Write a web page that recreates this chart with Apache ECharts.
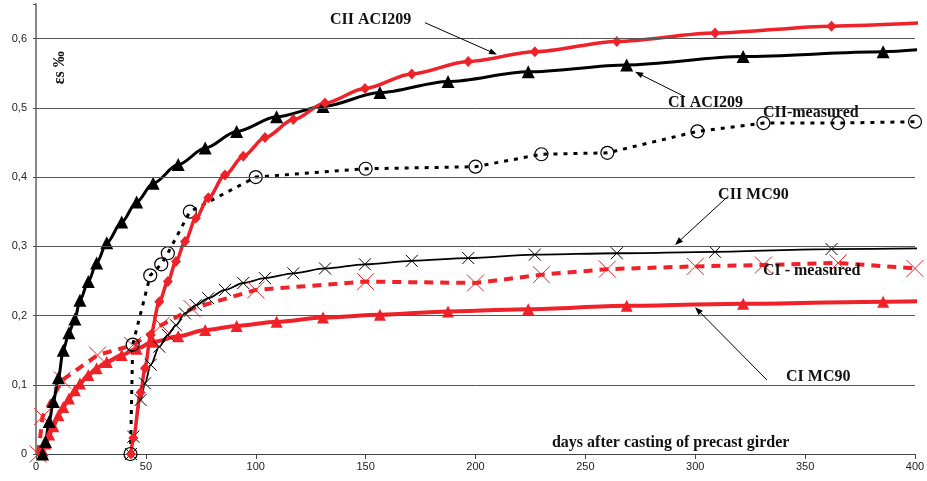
<!DOCTYPE html>
<html>
<head>
<meta charset="utf-8">
<script src="https://cdn.jsdelivr.net/npm/echarts@6/dist/echarts.min.js"></script>
<style>
  html, body { margin: 0; padding: 0; background: #fff; }
  #main { width: 927px; height: 481px; }
</style>
</head>
<body>
<div id="main"></div>
<script>
// CI girder: ACI209 and MC90 model points share the same days
var daysCI    = [3, 4.3, 6, 7.9, 10.2, 12.4, 15, 17.7, 20, 23.8, 27.6, 32.2, 39, 45.8, 53.3, 64.7, 77, 91.3, 109.5, 130.6, 156.5, 187.5, 224, 268.8, 321.8, 385.5, 405];
var ciACI209  = [0, 0.018, 0.047, 0.076, 0.11, 0.15, 0.175, 0.195, 0.222, 0.249, 0.276, 0.305, 0.335, 0.364, 0.391, 0.418, 0.442, 0.466, 0.487, 0.502, 0.522, 0.538, 0.552, 0.562, 0.574, 0.581, 0.585];
var ciMC90    = [0.005, 0.015, 0.028, 0.04, 0.056, 0.068, 0.08, 0.092, 0.102, 0.114, 0.124, 0.133, 0.143, 0.152, 0.162, 0.17, 0.179, 0.185, 0.191, 0.197, 0.201, 0.206, 0.209, 0.214, 0.217, 0.22, 0.221];

// CII girder (cast later, starts around day 43)
var daysCII   = [43.2, 44.3, 47.6, 49.6, 52.2, 56.1, 60, 63.7, 67.8, 72.8, 78.4, 86, 94.3, 104.2, 117.1, 131.5, 149.7, 171, 196.7, 227, 264.3, 309, 362, 405];
var ciiACI209 = [0, 0.023, 0.089, 0.124, 0.172, 0.22, 0.249, 0.278, 0.307, 0.341, 0.37, 0.403, 0.43, 0.457, 0.483, 0.507, 0.528, 0.549, 0.567, 0.581, 0.596, 0.608, 0.618, 0.623];
var ciiMC90   = [0, 0.025, 0.078, 0.102, 0.129, 0.155, 0.172, 0.186, 0.203, 0.215, 0.225, 0.237, 0.247, 0.254, 0.261, 0.268, 0.274, 0.279, 0.283, 0.288, 0.29, 0.292, 0.296, 0.297];

// measurements
var daysMeasCII = [43, 44, 52, 57, 60, 70, 100, 150, 200, 230, 260, 301, 331, 365, 400];
var ciiMeasured = [0, 0.158, 0.258, 0.274, 0.29, 0.35, 0.4, 0.412, 0.415, 0.433, 0.435, 0.466, 0.478, 0.478, 0.48];
var daysMeasCI  = [1, 3, 12, 28, 44, 57, 71, 100, 150, 200, 230, 260, 300, 331, 365, 400];
var ciMeasured  = [0, 0.054, 0.107, 0.143, 0.157, 0.186, 0.21, 0.237, 0.249, 0.247, 0.259, 0.267, 0.271, 0.273, 0.276, 0.268];

var xTicks = [0, 50, 100, 150, 200, 250, 300, 350, 400];
var yTicks = [0, 0.1, 0.2, 0.3, 0.4, 0.5, 0.6];

// annotations, in data coordinates
var notes = [
    {text: 'CII ACI209',    at: [133.8, 0.627], from: [177.0, 0.623], to: [209.8, 0.577]},
    {text: 'CI ACI209',     at: [287.6, 0.507], from: [295.3, 0.516], to: [272.6, 0.552]},
    {text: 'CII-measured',  at: [330.8, 0.493]},
    {text: 'CII MC90',      at: [310.4, 0.374], from: [314.5, 0.371], to: [290.8, 0.302]},
    {text: 'CI - measured', at: [330.8, 0.264]},
    {text: 'CI MC90',       at: [341.3, 0.111], from: [332.6, 0.107], to: [299.9, 0.212]}
];
var xName = {text: 'days after casting of precast girder', at: [234.8, 0.016]};
var yName = {text: 'εs ‰', at: [10.9, 0.558]};

var RED = '#ee2228';
var CROSS = 'path://M0 0L10 10M10 0L0 10';

// points past day 400 only continue the curve, no marker
function pairs(xs, ys) {
    var out = [];
    for (var i = 0; i < xs.length; i++) {
        if (xs[i] > 400) out.push({value: [xs[i], ys[i]], symbol: 'none'});
        else out.push([xs[i], ys[i]]);
    }
    return out;
}

var myChart = echarts.init(document.getElementById('main'));
var font = 'Liberation Sans, Arial, sans-serif';
var serif = 'Liberation Serif, Times New Roman, serif';

var option = {
    animation: false,
    backgroundColor: '#fff',
    grid: {left: 36, right: 12, top: 4, bottom: 27, containLabel: false, outerBoundsMode: 'none'},
    xAxis: {
        type: 'value', min: 0, max: 400, interval: 50,
        axisLine: {show: true, lineStyle: {color: '#444', width: 1}},
        axisTick: {show: true, length: 5, lineStyle: {color: '#444'}},
        axisLabel: {color: '#222', fontSize: 11, fontFamily: font, margin: 7},
        splitLine: {show: false}
    },
    yAxis: {
        type: 'value', min: 0, max: 0.65, interval: 0.1,
        axisLine: {show: true, lineStyle: {color: '#888', width: 2}},
        axisTick: {show: true, length: 3, lineStyle: {color: '#555'}},
        axisLabel: {
            color: '#222', fontSize: 11, fontFamily: font, margin: 9,
            formatter: function (v) {
                for (var i = 0; i < yTicks.length; i++) {
                    if (Math.abs(v - yTicks[i]) < 1e-9) return v === 0 ? '0' : yTicks[i].toFixed(1).replace('.', ',');
                }
                return '';
            }
        },
        splitLine: {show: false}
    },
    series: [
        {   // horizontal grid lines
            type: 'line', data: [], silent: true, z: 1,
            markLine: {
                silent: true, symbol: 'none', animation: false,
                label: {show: false},
                lineStyle: {color: '#555', width: 1, type: 'solid'},
                data: yTicks.slice(1).map(function (v) { return {yAxis: v}; })
            }
        },
        {
            name: 'CI MC90', type: 'line', data: pairs(daysCI, ciMC90),
            smooth: 0.3, smoothMonotone: 'x', clip: false, showAllSymbol: true,
            symbol: 'triangle', symbolSize: 12,
            lineStyle: {color: RED, width: 4},
            itemStyle: {color: RED}
        },
        {
            name: 'CI - measured', type: 'line', data: pairs(daysMeasCI, ciMeasured),
            clip: false, showAllSymbol: true,
            symbol: CROSS, symbolSize: 17,
            lineStyle: {color: RED, width: 4, type: [9, 7]},
            itemStyle: {color: 'rgba(0,0,0,0)', borderColor: RED, borderWidth: 1}
        },
        {
            name: 'CII MC90', type: 'line', data: pairs(daysCII, ciiMC90),
            smooth: 0.3, smoothMonotone: 'x', clip: false, showAllSymbol: true,
            symbol: CROSS, symbolSize: 12,
            lineStyle: {color: '#000', width: 1.8},
            itemStyle: {color: 'rgba(0,0,0,0)', borderColor: '#000', borderWidth: 1}
        },
        {
            name: 'CII-measured', type: 'line', data: pairs(daysMeasCII, ciiMeasured),
            clip: false, showAllSymbol: true,
            symbol: 'circle', symbolSize: 13,
            lineStyle: {color: '#000', width: 3, type: [4, 6]},
            itemStyle: {color: 'rgba(0,0,0,0)', borderColor: '#000', borderWidth: 1.2}
        },
        {
            name: 'CI ACI209', type: 'line', data: pairs(daysCI, ciACI209),
            smooth: 0.3, smoothMonotone: 'x', clip: false, showAllSymbol: true,
            symbol: 'triangle', symbolSize: 13,
            lineStyle: {color: '#000', width: 3},
            itemStyle: {color: '#000'}
        },
        {
            name: 'CII ACI209', type: 'line', data: pairs(daysCII, ciiACI209),
            smooth: 0.3, smoothMonotone: 'x', clip: false, showAllSymbol: true,
            symbol: 'diamond', symbolSize: [10, 11],
            lineStyle: {color: RED, width: 3.5},
            itemStyle: {color: RED}
        }
    ]
};
myChart.setOption(option);

// annotations and axis titles placed through the axes
function px(p) { return myChart.convertToPixel({gridIndex: 0}, p); }
var graphics = [];
notes.forEach(function (n) {
    var p = px(n.at);
    graphics.push({
        type: 'text', x: p[0], y: p[1], z: 100,
        style: {text: n.text, font: 'bold 16px ' + serif, fill: '#111', align: 'left', verticalAlign: 'middle'}
    });
    if (n.from) {
        var a = px(n.from), b = px(n.to);
        var dx = b[0] - a[0], dy = b[1] - a[1], len = Math.sqrt(dx * dx + dy * dy);
        var ux = dx / len, uy = dy / len, hl = 8, hw = 3;
        graphics.push({
            type: 'line', z: 100,
            shape: {x1: a[0], y1: a[1], x2: b[0] - ux * hl * 0.6, y2: b[1] - uy * hl * 0.6},
            style: {stroke: '#000', lineWidth: 1}
        });
        graphics.push({
            type: 'polygon', z: 100,
            shape: {points: [
                [b[0], b[1]],
                [b[0] - ux * hl - uy * hw, b[1] - uy * hl + ux * hw],
                [b[0] - ux * hl + uy * hw, b[1] - uy * hl - ux * hw]
            ]},
            style: {fill: '#000'}
        });
    }
});
var xp = px(xName.at);
graphics.push({
    type: 'text', x: xp[0], y: xp[1], z: 100,
    style: {text: xName.text, font: 'bold 16px ' + serif, fill: '#111', align: 'left', verticalAlign: 'middle'}
});
var yp = px(yName.at);
graphics.push({
    type: 'text', x: yp[0], y: yp[1], rotation: Math.PI / 2, z: 100,
    style: {text: yName.text, font: 'bold 16px ' + serif, fill: '#111', align: 'center', verticalAlign: 'middle'}
});
myChart.setOption({graphic: graphics});
</script>
</body>
</html>
